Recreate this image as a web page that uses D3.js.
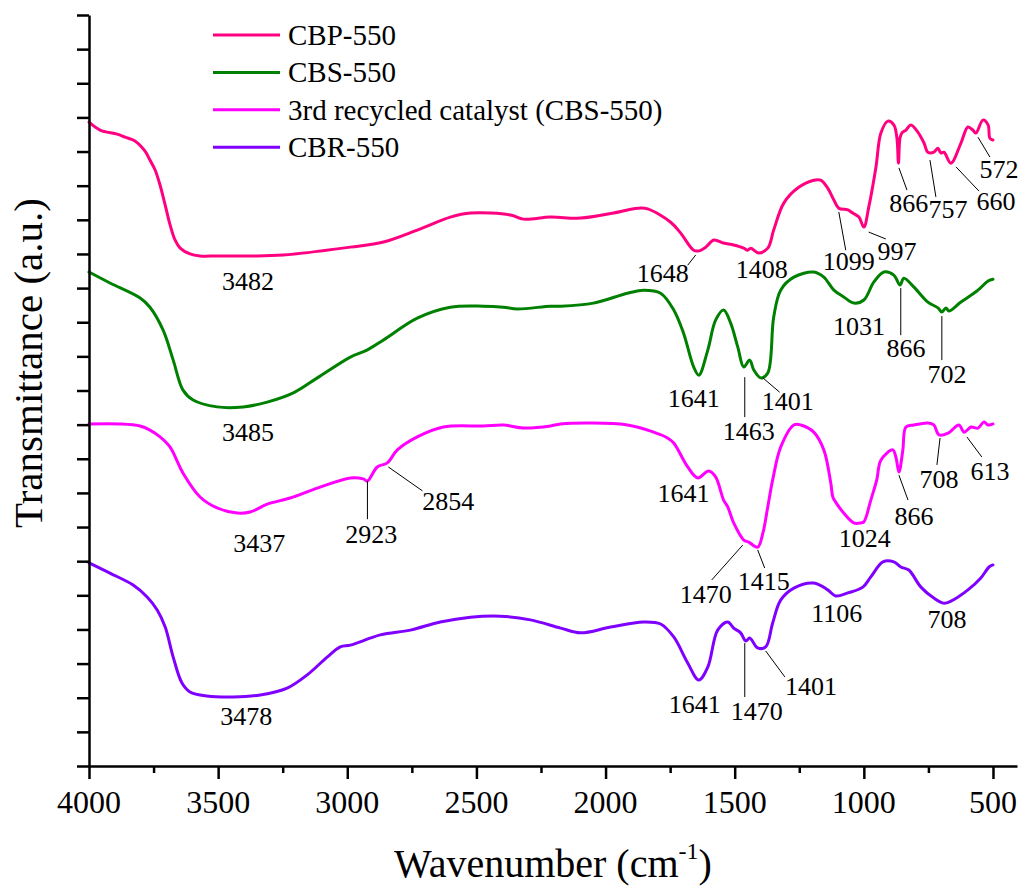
<!DOCTYPE html>
<html>
<head>
<meta charset="utf-8">
<script src="https://cdn.jsdelivr.net/npm/d3@7"></script>
<style>
  html, body { margin: 0; padding: 0; background: #fff; }
  #chart, #chart text, #chart tspan { font-family: "Liberation Serif"; }
</style>
</head>
<body>
<svg id="chart" width="1020" height="887" style='font-family: "Liberation Serif";'></svg>
<script>
// FTIR spectra: [wavenumber (cm^-1), transmittance (a.u., stacked offsets)]
const cbp550 = [
  [4000,18.86],[3957,18.63],[3891,18.51],[3860,18.42],[3822,18.31],[3783,18.01],[3764,17.75],[3744,17.46],
  [3725,17.02],[3705,16.43],[3686,15.85],[3667,15.41],[3647,15.17],[3609,15.00],[3570,14.94],[3504,14.94],
  [3376,14.94],[3248,14.97],[2988,15.20],[2860,15.35],[2729,15.70],[2601,16.08],[2523,16.20],[2368,16.14],
  [2318,16.02],[2213,16.08],[2097,16.05],[1969,16.20],[1876,16.34],[1837,16.32],[1748,15.93],[1709,15.61],
  [1659,15.11],[1639,15.09],[1612,15.20],[1581,15.41],[1543,15.32],[1504,15.26],[1465,15.17],[1450,15.11],
  [1438,15.17],[1407,15.03],[1372,15.17],[1349,15.70],[1310,16.49],[1256,16.93],[1194,17.16],[1167,17.16],
  [1140,16.93],[1116,16.58],[1097,16.34],[1062,16.29],[1043,16.20],[1019,16.08],[1000,15.79],[981,16.37],
  [953,17.55],[934,18.54],[907,18.89],[884,18.78],[872,18.40],[866,17.66],[860,18.40],[853,18.54],
  [837,18.63],[818,18.78],[791,18.57],[767,18.25],[752,17.98],[729,17.98],[713,18.10],[702,17.96],
  [690,17.98],[663,17.66],[624,18.25],[597,18.72],[578,18.63],[566,18.54],[539,18.92],[519,18.78],
  [512,18.39],[500,18.34]
];

const cbs550 = [
  [4000,14.47],[3919,14.15],[3802,13.71],[3764,13.44],[3713,12.77],[3674,11.89],[3636,11.01],[3597,10.72],
  [3504,10.52],[3403,10.52],[3310,10.66],[3209,10.93],[3116,11.37],[2988,11.98],[2922,12.19],[2860,12.48],
  [2729,13.12],[2601,13.44],[2473,13.47],[2395,13.44],[2341,13.39],[2213,13.47],[2174,13.47],[2047,13.56],
  [1915,13.85],[1853,13.94],[1787,13.85],[1736,13.36],[1698,12.68],[1659,11.69],[1639,11.45],[1604,12.19],
  [1574,13.06],[1543,13.36],[1516,12.98],[1488,12.27],[1465,11.69],[1442,11.89],[1426,11.60],[1399,11.37],
  [1372,11.51],[1349,13.15],[1322,13.94],[1271,14.32],[1194,14.47],[1155,14.32],[1116,13.94],[1078,13.74],
  [1039,13.56],[1000,13.65],[961,14.18],[922,14.47],[884,14.38],[860,14.09],[845,14.29],[806,14.03],
  [752,13.59],[713,13.42],[698,13.30],[682,13.42],[671,13.33],[624,13.59],[558,13.94],[519,14.21],
  [500,14.26]
];

const recycled3 = [
  [4000,10.02],[3880,10.02],[3802,9.96],[3764,9.84],[3725,9.64],[3686,9.34],[3636,8.58],[3570,7.88],
  [3504,7.56],[3426,7.41],[3376,7.44],[3310,7.67],[3221,7.85],[3116,8.14],[2988,8.44],[2938,8.41],
  [2922,8.35],[2884,8.76],[2845,8.88],[2806,9.26],[2729,9.64],[2628,9.93],[2473,9.96],[2395,9.99],
  [2318,9.90],[2213,9.96],[2174,10.02],[1915,9.99],[1814,9.78],[1760,9.61],[1736,9.46],[1682,8.76],
  [1643,8.44],[1601,8.64],[1574,8.47],[1543,7.79],[1527,7.59],[1504,7.12],[1465,6.62],[1446,6.56],
  [1411,6.41],[1391,6.82],[1372,7.59],[1353,8.38],[1322,9.34],[1271,9.99],[1244,9.99],[1194,9.78],
  [1155,9.26],[1128,8.29],[1120,7.88],[1109,7.73],[1078,7.41],[1039,7.12],[1012,7.12],[1000,7.15],
  [973,7.79],[950,8.38],[934,8.96],[888,9.26],[876,9.05],[864,8.61],[849,9.26],[837,9.93],
  [806,9.99],[752,10.05],[729,9.99],[709,9.70],[674,9.75],[632,9.99],[612,9.78],[585,9.93],
  [558,9.90],[535,10.08],[519,9.99],[500,10.02]
];

const cbr550 = [
  [4000,5.95],[3919,5.65],[3829,5.30],[3775,4.95],[3736,4.57],[3705,4.07],[3674,3.19],[3640,2.43],
  [3609,2.17],[3543,2.05],[3442,2.02],[3337,2.08],[3233,2.28],[3155,2.67],[3078,3.19],[3027,3.49],
  [2988,3.54],[2872,3.84],[2756,3.98],[2640,4.22],[2523,4.36],[2407,4.39],[2291,4.28],[2174,4.04],
  [2097,3.90],[1981,4.07],[1853,4.22],[1787,4.16],[1736,3.78],[1682,3.02],[1639,2.52],[1604,2.90],
  [1566,3.98],[1527,4.22],[1504,4.04],[1477,3.90],[1457,3.66],[1442,3.75],[1411,3.46],[1380,3.49],
  [1353,4.19],[1322,4.86],[1271,5.21],[1194,5.36],[1140,5.16],[1109,4.98],[1062,5.07],[1004,5.24],
  [973,5.54],[926,5.98],[884,5.98],[857,5.83],[826,5.74],[779,5.24],[729,4.92],[690,4.77],
  [663,4.83],[597,5.16],[547,5.51],[515,5.83],[500,5.89]
];

const seriesNames = ["CBP-550", "CBS-550", "3rd recycled catalyst (CBS-550)", "CBR-550"];
const seriesData = [cbp550, cbs550, recycled3, cbr550];
const seriesColors = ["#ff0080", "#008000", "#ff00ff", "#8000ff"];

const xMajorTicks = [4000, 3500, 3000, 2500, 2000, 1500, 1000, 500];
const xMinorTicks = [3750, 3250, 2750, 2250, 1750, 1250, 750];

// Band assignments: label text, text anchor (wavenumber, a.u.), optional leader line
const bandLabels = [
  { text: "3482", at: [3384, 13.94] },
  { text: "1648", at: [1779, 14.18], lead: [[1651, 14.97], [1682, 14.67]] },
  { text: "1408", at: [1395, 14.29] },
  { text: "1099", at: [1058, 14.53], lead: [[1097, 16.23], [1070, 15.11]] },
  { text: "997",  at: [872, 14.82],  lead: [[981, 15.64], [915, 15.44]] },
  { text: "866",  at: [826, 16.23],  lead: [[864, 17.52], [833, 16.87]] },
  { text: "757",  at: [674, 16.05],  lead: [[744, 17.75], [721, 16.67]] },
  { text: "660",  at: [488, 16.29],  lead: [[643, 17.55], [554, 16.84]] },
  { text: "572",  at: [477, 17.22],  lead: [[558, 18.42], [512, 17.84]] },

  { text: "3485", at: [3384, 9.52] },
  { text: "1641", at: [1659, 10.52] },
  { text: "1463", at: [1446, 9.55],  lead: [[1461, 11.39], [1461, 10.22]] },
  { text: "1401", at: [1295, 10.43], lead: [[1391, 11.37], [1326, 10.95]] },
  { text: "1031", at: [1019, 12.62] },
  { text: "866",  at: [837, 11.98],  lead: [[857, 14.00], [857, 12.62]] },
  { text: "702",  at: [678, 11.22],  lead: [[698, 13.18], [698, 11.89]] },

  { text: "3437", at: [3341, 6.27] },
  { text: "2923", at: [2907, 6.53],  lead: [[2922, 8.35], [2922, 7.23]] },
  { text: "2854", at: [2609, 7.50],  lead: [[2841, 8.76], [2709, 8.06]] },
  { text: "1641", at: [1698, 7.73] },
  { text: "1470", at: [1612, 4.77],  lead: [[1469, 6.47], [1589, 5.45]] },
  { text: "1415", at: [1388, 5.16],  lead: [[1411, 6.33], [1384, 5.80]] },
  { text: "1024", at: [996, 6.41] },
  { text: "866",  at: [806, 7.06],   lead: [[864, 8.52], [829, 7.79]] },
  { text: "708",  at: [709, 8.14],   lead: [[705, 9.61], [717, 8.82]] },
  { text: "613",  at: [512, 8.38],   lead: [[601, 9.64], [543, 9.05]] },

  { text: "3478", at: [3391, 1.20] },
  { text: "1641", at: [1655, 1.55] },
  { text: "1470", at: [1415, 1.35],  lead: [[1461, 3.60], [1461, 2.02]] },
  { text: "1401", at: [1205, 2.08],  lead: [[1380, 3.37], [1306, 2.61]] },
  { text: "1106", at: [1105, 4.22] },
  { text: "708",  at: [678, 4.04] }
];

const FONT = '"Liberation Serif"';

const svg = d3.select("#chart");

const x = d3.scaleLinear().domain([4000, 407]).range([89, 1017]);
const y = d3.scaleLinear().domain([0, 22]).range([766, 15]);

// Spectra
const line = d3.line()
  .x(d => x(d[0]))
  .y(d => y(d[1]))
  .curve(d3.curveCatmullRom.alpha(0.5));

svg.append("g")
  .selectAll("path")
  .data(seriesData)
  .join("path")
  .attr("d", line)
  .attr("fill", "none")
  .attr("stroke", (d, i) => seriesColors[i])
  .attr("stroke-width", 3)
  .attr("stroke-linejoin", "round")
  .attr("stroke-linecap", "round");

// Axes (ticks only; labels drawn as plain text below)
const xAxisMinor = svg.append("g")
  .attr("transform", `translate(0,${y(0)})`)
  .call(d3.axisBottom(x).tickValues(xMinorTicks).tickSize(7).tickSizeOuter(0).tickFormat(""));
xAxisMinor.select(".domain").remove();

svg.append("g")
  .attr("transform", `translate(0,${y(0)})`)
  .call(d3.axisBottom(x).tickValues(xMajorTicks).tickSize(13).tickSizeOuter(0).tickFormat(""));

svg.append("g")
  .attr("transform", `translate(${x(4000)},0)`)
  .call(d3.axisLeft(y).tickValues(d3.range(0, 23)).tickSize(12).tickSizeOuter(0).tickFormat(""));

svg.selectAll(".domain, .tick line")
  .attr("stroke", "#000")
  .attr("stroke-width", 2.5);

// X tick labels
svg.append("g")
  .selectAll("text")
  .data(xMajorTicks)
  .join("text")
  .attr("x", d => x(d))
  .attr("y", 813)
  .attr("text-anchor", "middle")
  .attr("font-size", 32)
  .attr("fill", "#000")
  .style("font-family", FONT)
  .text(d => d);

// Axis titles
const xTitle = svg.append("text")
  .attr("x", 553)
  .attr("y", 877)
  .attr("text-anchor", "middle")
  .attr("font-size", 40)
  .attr("fill", "#000")
  .style("font-family", FONT);
xTitle.append("tspan").text("Wavenumber (cm").style("font-family", FONT);
xTitle.append("tspan").text("-1").attr("font-size", 24).attr("dy", -18).style("font-family", FONT);
xTitle.append("tspan").text(")").attr("dy", 18).style("font-family", FONT);

svg.append("text")
  .attr("transform", "translate(42,363) rotate(-90)")
  .attr("text-anchor", "middle")
  .attr("font-size", 41)
  .attr("fill", "#000")
  .style("font-family", FONT)
  .text("Transmittance (a.u.)");

// Band labels and leader lines
svg.append("g")
  .selectAll("line")
  .data(bandLabels.filter(d => d.lead))
  .join("line")
  .attr("x1", d => x(d.lead[0][0]))
  .attr("y1", d => y(d.lead[0][1]))
  .attr("x2", d => x(d.lead[1][0]))
  .attr("y2", d => y(d.lead[1][1]))
  .attr("stroke", "#000")
  .attr("stroke-width", 1);

svg.selectAll("text.band")
  .data(bandLabels)
  .join("text")
  .attr("class", "band")
  .attr("x", d => x(d.at[0]))
  .attr("y", d => y(d.at[1]))
  .attr("text-anchor", "middle")
  .attr("font-size", 26)
  .attr("fill", "#000")
  .style("font-family", FONT)
  .text(d => d.text);

// Legend
svg.selectAll("line.key")
  .data(seriesNames)
  .join("line")
  .attr("class", "key")
  .attr("x1", 213).attr("x2", 280)
  .attr("y1", (d, i) => 35 + i * 37.4)
  .attr("y2", (d, i) => 35 + i * 37.4)
  .attr("stroke", (d, i) => seriesColors[i])
  .attr("stroke-width", 3);

svg.selectAll("text.key")
  .data(seriesNames)
  .join("text")
  .attr("class", "key")
  .attr("x", 288)
  .attr("y", (d, i) => 45 + i * 37.4)
  .attr("font-size", 29)
  .attr("fill", "#000")
  .style("font-family", FONT)
  .text(d => d);
</script>
</body>
</html>
